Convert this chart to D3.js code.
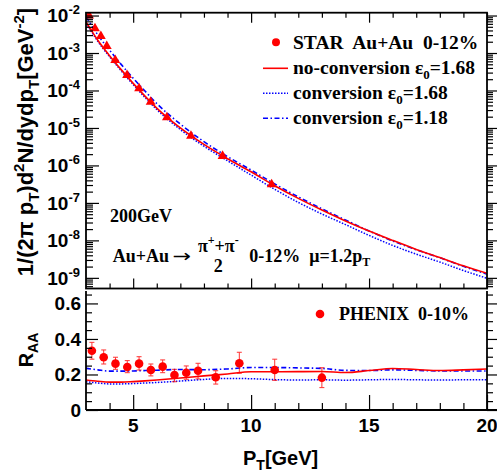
<!DOCTYPE html>
<html>
<head>
<meta charset="utf-8">
<script src="https://cdn.jsdelivr.net/npm/d3@7"></script>
<style>
  body { margin: 0; background: #fff; }
  svg { display: block; }
  .sans { font-family: "Liberation Sans", Arial, sans-serif; font-weight: bold; }
  .serif { font-family: "Liberation Serif", "Times New Roman", serif; font-weight: bold; }
</style>
</head>
<body>
<svg id="chart" width="497" height="473"></svg>
<script>
// ---- data ---------------------------------------------------------------
// pT grid of the model curves (GeV)
const specPt = [3, 3.25, 3.5, 4, 4.5, 5, 5.5, 6, 7, 8, 9, 10, 11, 12, 13, 14, 15, 16, 17, 18, 19, 20];
// invariant yields 1/(2pi pT) d2N/dydpT (GeV^-2)
const specNoConv168 = [6.76e-3, 3.80e-3, 2.19e-3, 8.51e-4, 3.55e-4, 1.55e-4, 7.08e-5, 3.39e-5, 1.00e-5, 3.63e-6, 1.51e-6,
  6.76e-7, 2.88e-7, 1.32e-7, 6.46e-8, 3.31e-8, 1.78e-8, 1.00e-8, 5.75e-9, 3.47e-9, 2.09e-9, 1.32e-9];
const specConv168 = [6.37e-3, 3.57e-3, 2.05e-3, 7.96e-4, 3.31e-4, 1.44e-4, 6.53e-5, 3.10e-5, 9.06e-6, 3.25e-6, 1.33e-6,
  5.53e-7, 2.30e-7, 1.03e-7, 5.06e-8, 2.64e-8, 1.36e-8, 7.35e-9, 4.30e-9, 2.64e-9, 1.57e-9, 9.75e-10];
const specConv118 = [9.40e-3, 5.30e-3, 3.05e-3, 1.19e-3, 4.90e-4, 2.13e-4, 9.66e-5, 4.49e-5, 1.27e-5, 4.30e-6, 1.72e-6,
  7.52e-7, 3.21e-7, 1.45e-7, 6.97e-8, 3.50e-8, 1.78e-8, 9.66e-9, 5.62e-9, 3.44e-9, 2.03e-9, 1.26e-9];

// STAR Au+Au 0-12% pions
const starPt = [3.13, 3.38, 3.63, 3.88, 4.24, 4.74, 5.25, 5.74, 6.43, 7.45, 8.79, 10.87];
const starYield = [9.9e-3, 4.55e-3, 2.83e-3, 1.53e-3, 6.46e-4, 2.57e-4, 1.13e-4, 4.95e-5, 1.90e-5, 6.1e-6, 1.78e-6, 3.12e-7];

// nuclear modification factor curves
const raaPt = [3, 3.5, 4, 4.5, 5, 5.5, 6, 7, 8, 9, 10, 11, 12, 13, 14, 15, 16, 17, 18, 19, 20];
const raaNoConv168 = [0.169, 0.162, 0.157, 0.157, 0.160, 0.164, 0.169, 0.180, 0.192, 0.203, 0.215, 0.215, 0.216, 0.217, 0.211, 0.222, 0.234, 0.228, 0.222, 0.226, 0.231];
const raaConv168 = [0.159, 0.152, 0.147, 0.147, 0.149, 0.152, 0.155, 0.163, 0.172, 0.178, 0.176, 0.171, 0.169, 0.170, 0.168, 0.170, 0.172, 0.170, 0.169, 0.170, 0.171];
const raaConv118 = [0.235, 0.226, 0.219, 0.219, 0.220, 0.222, 0.224, 0.228, 0.227, 0.231, 0.239, 0.239, 0.237, 0.234, 0.223, 0.222, 0.226, 0.223, 0.220, 0.220, 0.220];

// PHENIX 0-10% pi0 R_AA with error bar ends
const phenixPt = [3.25, 3.75, 4.25, 4.75, 5.25, 5.75, 6.25, 6.75, 7.25, 7.75, 8.5, 9.5, 11, 13];
const phenixRaa = [0.334, 0.297, 0.261, 0.242, 0.261, 0.225, 0.244, 0.197, 0.210, 0.221, 0.184, 0.263, 0.225, 0.182];
const phenixHigh = [0.381, 0.338, 0.297, 0.278, 0.300, 0.259, 0.282, 0.229, 0.248, 0.263, 0.221, 0.325, 0.286, 0.238];
const phenixLow = [0.286, 0.259, 0.229, 0.210, 0.225, 0.192, 0.210, 0.159, 0.173, 0.175, 0.146, 0.207, 0.167, 0.126];

// axis ticks
const ptMajorTicks = [5, 10, 15, 20];
const decadeExponents = [-2, -3, -4, -5, -6, -7, -8, -9];
const raaMajorTicks = [0, 0.2, 0.4, 0.6];

// ---- layout -------------------------------------------------------------
const svg = d3.select("#chart");
const RED = "#ff0000", BLUE = "#0000ff";

const xTop = d3.scaleLinear().domain([3, 20]).range([86, 487]);
const yTop = d3.scaleLog().domain([5.2e-10, 0.0119]).range([288.5, 12.7]);
const xBot = d3.scaleLinear().domain([3, 20]).range([86, 487]);
const yBot = d3.scaleLinear().domain([0, 0.67]).range([410, 291]);

const minorPt = d3.range(4, 21, 1).filter(v => !ptMajorTicks.includes(v));
const logMinor = [];
for (let e = -10; e <= -2; e++) for (let k = 2; k <= 9; k++) {
  const v = k * Math.pow(10, e);
  if (v > yTop.domain()[0] && v < yTop.domain()[1]) logMinor.push(v);
}
const decades = decadeExponents.map(e => Math.pow(10, e));
const raaMinor = d3.range(0.05, 0.67, 0.05).filter(v => !raaMajorTicks.some(t => Math.abs(t - v) < 1e-6));

function tickAxis(g, axisFn, scale, values, size) {
  g.call(axisFn(scale).tickValues(values).tickSize(size).tickSizeOuter(0).tickFormat(""))
    .call(s => s.select(".domain").remove())
    .call(s => s.selectAll(".tick line").attr("stroke", "#000").attr("stroke-width", 1.2));
}

// ---- upper panel: spectra ----------------------------------------------
const upper = svg.append("g");
svg.append("clipPath").attr("id", "clipUpper")
  .append("rect").attr("x", 86).attr("y", 12.7).attr("width", 401).attr("height", 275.8);

const lineTop = d3.line().x(d => xTop(d[0])).y(d => yTop(d[1])).curve(d3.curveMonotoneX);
const plotTop = upper.append("g").attr("clip-path", "url(#clipUpper)");
plotTop.append("path").datum(d3.zip(specPt, specConv168)).attr("d", lineTop)
  .attr("fill", "none").attr("stroke", BLUE).attr("stroke-width", 1.5).attr("stroke-dasharray", "1.5,1.5");
plotTop.append("path").datum(d3.zip(specPt, specConv118)).attr("d", lineTop)
  .attr("fill", "none").attr("stroke", BLUE).attr("stroke-width", 1.6).attr("stroke-dasharray", "5,2.5,1.5,2.5");
plotTop.append("path").datum(d3.zip(specPt, specNoConv168)).attr("d", lineTop)
  .attr("fill", "none").attr("stroke", RED).attr("stroke-width", 1.6);
plotTop.selectAll(".star").data(d3.zip(starPt, starYield)).join("path")
  .attr("transform", d => `translate(${xTop(d[0])},${yTop(d[1])})`)
  .attr("d", d3.symbol(d3.symbolTriangle, 42)).attr("fill", RED);

// frame ticks
tickAxis(upper.append("g").attr("transform", "translate(0,288.5)"), d3.axisTop, xTop, ptMajorTicks, 10);
tickAxis(upper.append("g").attr("transform", "translate(0,288.5)"), d3.axisTop, xTop, minorPt, 5);
tickAxis(upper.append("g").attr("transform", "translate(0,12.7)"), d3.axisBottom, xTop, ptMajorTicks, 10);
tickAxis(upper.append("g").attr("transform", "translate(0,12.7)"), d3.axisBottom, xTop, minorPt, 5);
tickAxis(upper.append("g").attr("transform", "translate(86,0)"), d3.axisRight, yTop, decades, 13);
tickAxis(upper.append("g").attr("transform", "translate(86,0)"), d3.axisRight, yTop, logMinor, 7);
tickAxis(upper.append("g").attr("transform", "translate(487,0)"), d3.axisRight, yTop, decades, 10);
tickAxis(upper.append("g").attr("transform", "translate(487,0)"), d3.axisRight, yTop, logMinor, 6);
upper.append("rect").attr("x", 86).attr("y", 12.7).attr("width", 401).attr("height", 275.8)
  .attr("fill", "none").attr("stroke", "#000").attr("stroke-width", 1.8);

// decade labels 10^n
const decLabels = upper.selectAll(".dec").data(decadeExponents).join("text")
  .attr("class", "sans").attr("font-size", 19).attr("text-anchor", "end")
  .attr("x", 80).attr("y", e => yTop(Math.pow(10, e)) + 6.8);
decLabels.append("tspan").text("10");
decLabels.append("tspan").attr("font-size", 13).attr("dy", -8).text(e => String(e));

// y title
const yt = svg.append("text").attr("class", "sans").attr("font-size", 22)
  .attr("text-anchor", "middle").attr("transform", "translate(33,142) rotate(-90)");
yt.append("tspan").text("1/(2\u03C0 p");
yt.append("tspan").attr("font-size", 15).attr("dy", 6).text("T");
yt.append("tspan").attr("dy", -6).text(")d");
yt.append("tspan").attr("font-size", 15).attr("dy", -9).text("2");
yt.append("tspan").attr("dy", 9).text("N/dydp");
yt.append("tspan").attr("font-size", 15).attr("dy", 6).text("T");
yt.append("tspan").attr("dy", -6).text("[GeV");
yt.append("tspan").attr("font-size", 15).attr("dy", -9).text("-2");
yt.append("tspan").attr("dy", 9).text("]");

// legend
const leg = svg.append("g").attr("class", "serif").attr("font-size", 19.5);
leg.append("circle").attr("cx", 276).attr("cy", 42.3).attr("r", 4).attr("fill", RED);
leg.append("text").attr("x", 293).attr("y", 49).attr("xml:space", "preserve").text("STAR  Au+Au  0-12%");
const legRows = [
  { y: 68.3, stroke: RED, dash: null, w: 1.6, label: "no-conversion \u03B5", val: "=1.68" },
  { y: 93.2, stroke: BLUE, dash: "1.5,1.5", w: 1.5, label: "conversion \u03B5", val: "=1.68" },
  { y: 118.3, stroke: BLUE, dash: "5,2.5,1.5,2.5", w: 1.6, label: "conversion \u03B5", val: "=1.18" }
];
legRows.forEach(r => {
  leg.append("line").attr("x1", 263).attr("x2", 288).attr("y1", r.y).attr("y2", r.y)
    .attr("stroke", r.stroke).attr("stroke-width", r.w).attr("stroke-dasharray", r.dash);
  const t = leg.append("text").attr("x", 293).attr("y", r.y + 5.5);
  t.append("tspan").text(r.label);
  t.append("tspan").attr("font-size", 13).attr("dy", 5).text("0");
  t.append("tspan").attr("dy", -5).text(r.val);
});

// annotations
svg.append("text").attr("class", "serif").attr("font-size", 18).attr("x", 110).attr("y", 221.7).text("200GeV");
const ann = svg.append("g").attr("class", "serif").attr("font-size", 18);
ann.append("text").attr("x", 112.7).attr("y", 261.7).text("Au+Au");
ann.append("text").attr("x", 172.5).attr("y", 262).attr("font-family", "DejaVu Sans").attr("font-weight", "normal")
  .attr("font-size", 22).attr("transform", "translate(172.5,262) scale(1,0.8) translate(-172.5,-262)").text("\u2192");
const frac = ann.append("text").attr("x", 218.3).attr("y", 251.5).attr("text-anchor", "middle");
frac.append("tspan").text("\u03C0");
frac.append("tspan").attr("font-size", 12).attr("dy", -8).text("+");
frac.append("tspan").attr("dy", 8).text("+\u03C0");
frac.append("tspan").attr("font-size", 12).attr("dy", -8).text("-");
ann.append("text").attr("x", 218.3).attr("y", 272).attr("text-anchor", "middle").text("2");
const mu = ann.append("text").attr("x", 249.3).attr("y", 261.7).attr("xml:space", "preserve");
mu.append("tspan").text("0-12%  \u03BC=1.2p");
mu.append("tspan").attr("font-size", 12).attr("dy", 4).text("T");

// ---- lower panel: R_AA ------------------------------------------------
const lower = svg.append("g");
const lineBot = d3.line().x(d => xBot(d[0])).y(d => yBot(d[1])).curve(d3.curveMonotoneX);
lower.append("path").datum(d3.zip(raaPt, raaConv168)).attr("d", lineBot)
  .attr("fill", "none").attr("stroke", BLUE).attr("stroke-width", 1.5).attr("stroke-dasharray", "1.5,1.5");
lower.append("path").datum(d3.zip(raaPt, raaConv118)).attr("d", lineBot)
  .attr("fill", "none").attr("stroke", BLUE).attr("stroke-width", 1.6).attr("stroke-dasharray", "5,2.5,1.5,2.5");
lower.append("path").datum(d3.zip(raaPt, raaNoConv168)).attr("d", lineBot)
  .attr("fill", "none").attr("stroke", RED).attr("stroke-width", 1.6);

const pts = d3.range(phenixPt.length);
const eb = lower.append("g").attr("stroke", RED).attr("stroke-width", 1).attr("opacity", 0.8);
eb.selectAll(".v").data(pts).join("line")
  .attr("x1", i => xBot(phenixPt[i])).attr("x2", i => xBot(phenixPt[i]))
  .attr("y1", i => yBot(phenixLow[i])).attr("y2", i => yBot(phenixHigh[i]));
eb.selectAll(".ch").data(pts).join("line")
  .attr("x1", i => xBot(phenixPt[i]) - 2.5).attr("x2", i => xBot(phenixPt[i]) + 2.5)
  .attr("y1", i => yBot(phenixHigh[i])).attr("y2", i => yBot(phenixHigh[i]));
eb.selectAll(".cl").data(pts).join("line")
  .attr("x1", i => xBot(phenixPt[i]) - 2.5).attr("x2", i => xBot(phenixPt[i]) + 2.5)
  .attr("y1", i => yBot(phenixLow[i])).attr("y2", i => yBot(phenixLow[i]));
lower.selectAll(".ph").data(pts).join("circle")
  .attr("cx", i => xBot(phenixPt[i])).attr("cy", i => yBot(phenixRaa[i])).attr("r", 4.3).attr("fill", RED);

tickAxis(lower.append("g").attr("transform", "translate(0,410)"), d3.axisTop, xBot, ptMajorTicks, 15);
tickAxis(lower.append("g").attr("transform", "translate(0,410)"), d3.axisTop, xBot, minorPt, 7);
tickAxis(lower.append("g").attr("transform", "translate(86,0)"), d3.axisRight, yBot, raaMajorTicks, 12);
tickAxis(lower.append("g").attr("transform", "translate(86,0)"), d3.axisRight, yBot, raaMinor, 6);
tickAxis(lower.append("g").attr("transform", "translate(487,0)"), d3.axisRight, yBot, raaMajorTicks, 10);
tickAxis(lower.append("g").attr("transform", "translate(487,0)"), d3.axisRight, yBot, raaMinor, 6);
lower.append("line").attr("x1", 86).attr("x2", 497).attr("y1", 410).attr("y2", 410).attr("stroke", "#000").attr("stroke-width", 1.8);
lower.append("line").attr("x1", 86).attr("x2", 86).attr("y1", 291).attr("y2", 410).attr("stroke", "#000").attr("stroke-width", 1.8);
lower.append("line").attr("x1", 487).attr("x2", 487).attr("y1", 291).attr("y2", 410).attr("stroke", "#000").attr("stroke-width", 1.8);

lower.selectAll(".rl").data(raaMajorTicks).join("text").attr("class", "sans").attr("font-size", 19)
  .attr("text-anchor", "end").attr("x", 81).attr("y", d => yBot(d) + 6.8)
  .text(d => d === 0 ? "0" : d.toFixed(1));
lower.selectAll(".xl").data(ptMajorTicks).join("text").attr("class", "sans").attr("font-size", 19)
  .attr("text-anchor", "middle").attr("x", d => xBot(d)).attr("y", 432).text(d => d);

const ry = svg.append("text").attr("class", "sans").attr("font-size", 20)
  .attr("text-anchor", "middle").attr("transform", "translate(33,350) rotate(-90)");
ry.append("tspan").text("R");
ry.append("tspan").attr("font-size", 14).attr("dy", 5).text("AA");

const xt = svg.append("text").attr("class", "sans").attr("font-size", 20).attr("x", 243).attr("y", 465);
xt.append("tspan").text("P");
xt.append("tspan").attr("font-size", 14).attr("dy", 5).text("T");
xt.append("tspan").attr("dy", -5).text("[GeV]");

// lower legend
lower.append("circle").attr("cx", 320).attr("cy", 314).attr("r", 4.3).attr("fill", RED);
lower.append("text").attr("class", "serif").attr("font-size", 18).attr("x", 339).attr("y", 319.5)
  .attr("xml:space", "preserve").text("PHENIX  0-10%");
</script>
</body>
</html>
